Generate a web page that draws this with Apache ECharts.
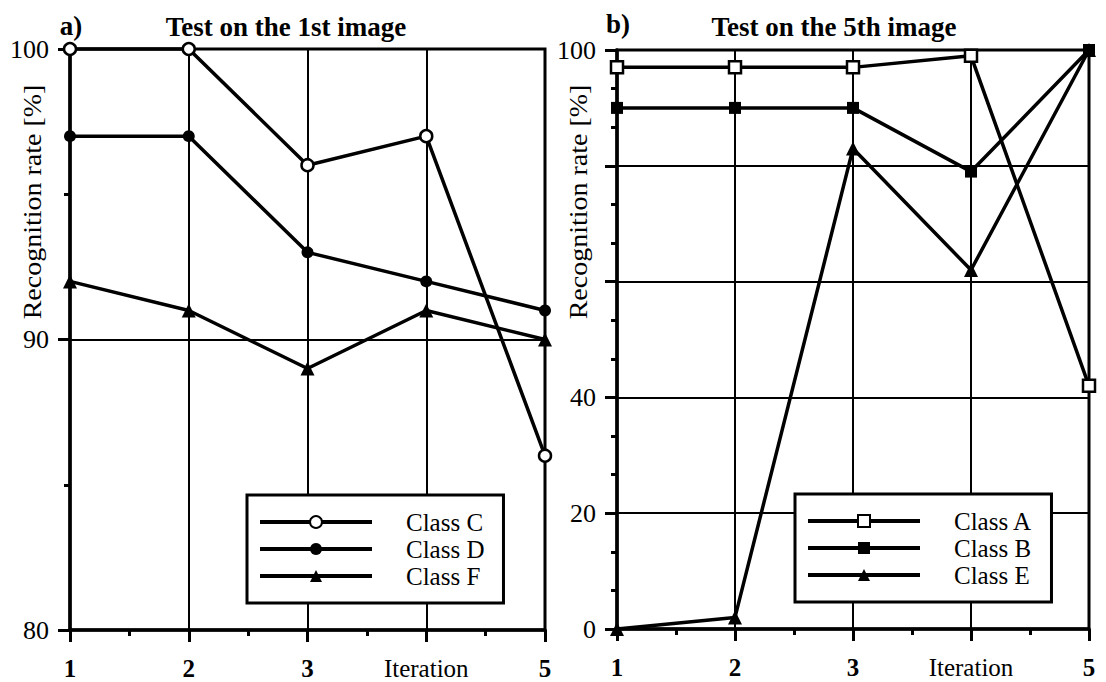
<!DOCTYPE html>
<html>
<head>
<meta charset="utf-8">
<script src="https://cdn.jsdelivr.net/npm/echarts@6/dist/echarts.min.js"></script>
<style>
  html, body { margin: 0; padding: 0; background: #fff; }
  #chart { width: 1106px; height: 682px; }
</style>
</head>
<body>
<div id="chart"></div>
<script>
// Iterations on the x axis; the 4th tick carries the axis name instead of its number
const iterations = [1, 2, 3, 4, 5];
const xTickLabels = ['1', '2', '3', 'Iteration', '5'];

// a) Test on the 1st image — recognition rate [%]
const classC = [100, 100, 96, 97, 86];
const classD = [97, 97, 93, 92, 91];
const classF = [92, 91, 89, 91, 90];

// b) Test on the 5th image — recognition rate [%]
const classA = [97, 97, 97, 99, 42];
const classB = [90, 90, 90, 79, 100];
const classE = [0, 2, 83, 62, 100];

// y tick values that get no printed label (space taken by the axis name)
const rightUnlabelled = [60, 80];

const FONT = '"Liberation Serif", "Times New Roman", serif';
const INK = '#000';

function pairs(values) {
  return iterations.map((x, i) => [x, values[i]]);
}

function xAxisCfg(gridIndex) {
  return {
    type: 'value', gridIndex, min: 1, max: 5, interval: 1,
    axisLine: { show: true, onZero: false, lineStyle: { color: INK, width: 3.5 } },
    axisTick: { show: true, length: 12, lineStyle: { color: INK, width: 3 } },
    minorTick: { show: true, splitNumber: 2, length: 6, lineStyle: { color: INK, width: 3 } },
    splitLine: { show: true, lineStyle: { color: INK, width: 2 } },
    axisLabel: {
      margin: 26, color: INK, fontFamily: FONT, fontSize: 25, fontWeight: 'bold',
      formatter: v => {
        const t = xTickLabels[iterations.indexOf(v)];
        return t === 'Iteration' ? '{it|' + t + '}' : t;
      },
      rich: { it: { fontFamily: FONT, fontSize: 25, fontWeight: 'normal', color: INK } }
    }
  };
}

function yAxisCfg(gridIndex, min, max, interval, minorSplit, hidden) {
  return {
    type: 'value', gridIndex, min, max, interval,
    axisLine: { show: true, onZero: false, lineStyle: { color: INK, width: 3.5 } },
    axisTick: { show: true, length: 12, lineStyle: { color: INK, width: 3 } },
    minorTick: { show: true, splitNumber: minorSplit, length: 6, lineStyle: { color: INK, width: 3 } },
    splitLine: { show: true, lineStyle: { color: INK, width: 2 } },
    axisLabel: {
      margin: 21, color: INK, fontFamily: FONT, fontSize: 26,
      formatter: v => (hidden.indexOf(v) >= 0 ? '' : String(v))
    }
  };
}

function lineSeries(name, values, symbol, open, axisIndex) {
  return {
    type: 'line', name,
    xAxisIndex: axisIndex, yAxisIndex: axisIndex,
    data: pairs(values),
    symbol,
    symbolSize: symbol === 'triangle' ? 14 : 12,
    showAllSymbol: true,
    clip: false,
    lineStyle: { color: INK, width: 3.5 },
    itemStyle: { color: open ? '#fff' : INK, borderColor: INK, borderWidth: open ? 2.5 : 0 },
    emphasis: { disabled: true },
    z: open ? 4 : 3
  };
}

function legendCfg(names, left, top) {
  return {
    data: names,
    orient: 'vertical',
    left, top,
    itemWidth: 112, itemHeight: 15, itemGap: 1,
    padding: [14, 19, 14, 11],
    borderColor: INK, borderWidth: 3, backgroundColor: '#fff',
    selectedMode: false,
    lineStyle: { color: INK, width: 4 },
    textStyle: { fontFamily: FONT, fontSize: 25, color: INK, lineHeight: 26, padding: [0, 0, 0, 29] }
  };
}

function label(text, x, y, size, weight, rotate, stretch) {
  return {
    type: 'text', x, y,
    rotation: rotate ? Math.PI / 2 : 0,
    scaleX: stretch || 1,
    silent: true,
    style: {
      text, fill: INK,
      fontFamily: FONT, fontSize: size, fontWeight: weight,
      align: 'center', verticalAlign: 'middle'
    }
  };
}

const chart = echarts.init(document.getElementById('chart'), null, { renderer: 'svg' });

chart.setOption({
  animation: false,
  backgroundColor: '#fff',
  grid: [
    { left: 70, top: 49, width: 475, height: 581, show: true, borderColor: INK, borderWidth: 3, backgroundColor: 'transparent' },
    { left: 617, top: 50, width: 472, height: 579, show: true, borderColor: INK, borderWidth: 3, backgroundColor: 'transparent' }
  ],
  xAxis: [xAxisCfg(0), xAxisCfg(1)],
  yAxis: [
    yAxisCfg(0, 80, 100, 10, 2, []),
    yAxisCfg(1, 0, 100, 20, 3, rightUnlabelled)
  ],
  legend: [
    legendCfg(['Class C', 'Class D', 'Class F'], 247, 495),
    legendCfg(['Class A', 'Class B', 'Class E'], 795, 494)
  ],
  series: [
    lineSeries('Class C', classC, 'circle', true, 0),
    lineSeries('Class D', classD, 'circle', false, 0),
    lineSeries('Class F', classF, 'triangle', false, 0),
    lineSeries('Class A', classA, 'rect', true, 1),
    lineSeries('Class B', classB, 'rect', false, 1),
    lineSeries('Class E', classE, 'triangle', false, 1)
  ],
  graphic: [
    label('a)', 71, 26, 27, 'bold', false),
    label('Test on the 1st image', 286, 27, 27, 'bold', false),
    label('b)', 618, 24, 27, 'bold', false),
    label('Test on the 5th image', 834, 27, 27, 'bold', false),
    label('Recognition rate [%]', 33, 202, 25, 'normal', true, 1.12),
    label('Recognition rate [%]', 579, 202, 25, 'normal', true, 1.12)
  ]
});
</script>
</body>
</html>
